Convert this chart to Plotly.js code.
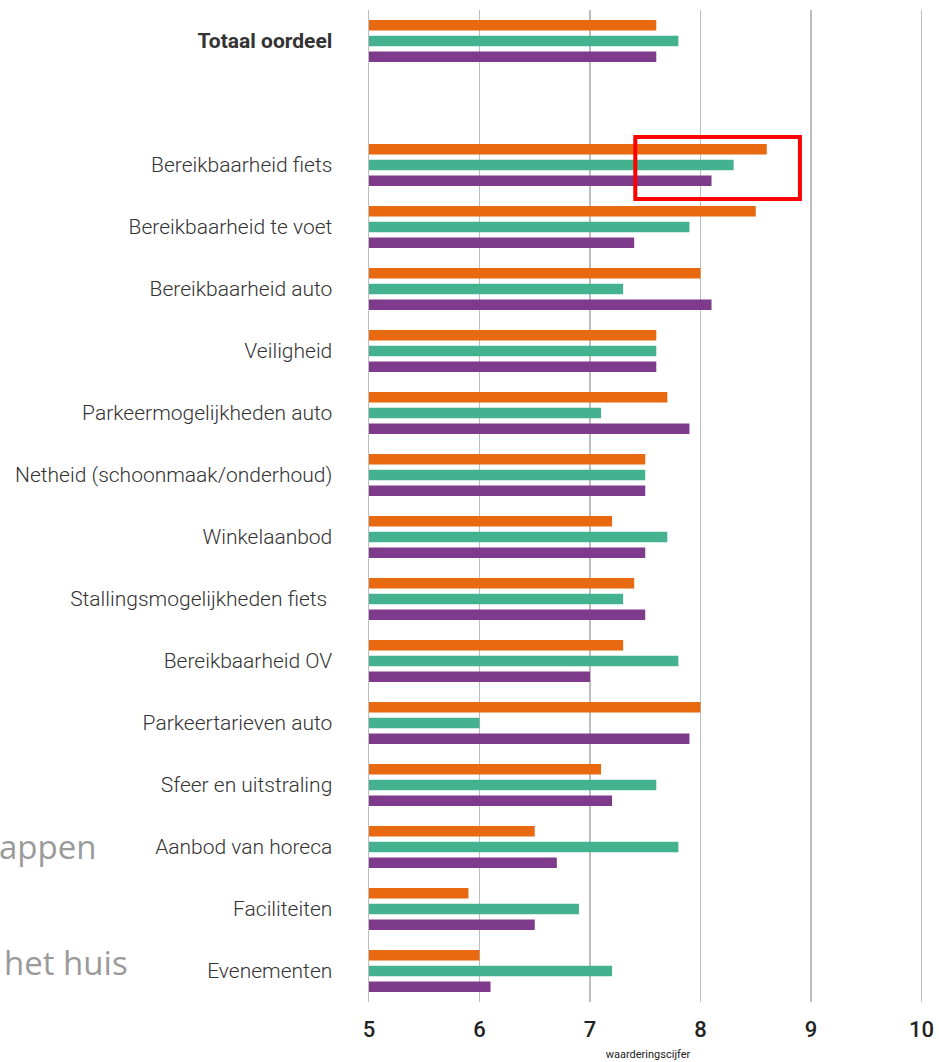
<!DOCTYPE html>
<html>
<head>
<meta charset="utf-8">
<script src="https://cdn.plot.ly/plotly-3.0.1.min.js"></script>
<style>html,body{margin:0;padding:0;background:#fff;}#chart{width:939px;height:1062px;}</style>
</head>
<body>
<div id="chart"></div>
<script>
const categories = ["Totaal oordeel", " ", "Bereikbaarheid fiets", "Bereikbaarheid te voet", "Bereikbaarheid auto", "Veiligheid", "Parkeermogelijkheden auto", "Netheid (schoonmaak/onderhoud)", "Winkelaanbod", "Stallingsmogelijkheden fiets ", "Bereikbaarheid OV", "Parkeertarieven auto", "Sfeer en uitstraling", "Aanbod van horeca", "Faciliteiten", "Evenementen"];
const tickLabels = ["<b>Totaal oordeel</b>", " ", "Bereikbaarheid fiets", "Bereikbaarheid te voet", "Bereikbaarheid auto", "Veiligheid", "Parkeermogelijkheden auto", "Netheid (schoonmaak/onderhoud)", "Winkelaanbod", "Stallingsmogelijkheden fiets ", "Bereikbaarheid OV", "Parkeertarieven auto", "Sfeer en uitstraling", "Aanbod van horeca", "Faciliteiten", "Evenementen"];
const orangeValues = [7.6, null, 8.6, 8.5, 8.0, 7.6, 7.7, 7.5, 7.2, 7.4, 7.3, 8.0, 7.1, 6.5, 5.9, 6.0];
const greenValues  = [7.8, null, 8.3, 7.9, 7.3, 7.6, 7.1, 7.5, 7.7, 7.3, 7.8, 6.0, 7.6, 7.8, 6.9, 7.2];
const purpleValues = [7.6, null, 8.1, 7.4, 8.1, 7.6, 7.9, 7.5, 7.5, 7.5, 7.0, 7.9, 7.2, 6.7, 6.5, 6.1];
const xTicks = [5, 6, 7, 8, 9, 10];

function bar(vals, color) {
  return {type: 'bar', orientation: 'h', y: categories, x: vals.map(v => v === null ? null : v - 5), base: 5,
          marker: {color: color, line: {width: 0}}, hoverinfo: 'skip', showlegend: false};
}
const data = [bar(orangeValues, '#E8690F'), bar(greenValues, '#45B28F'), bar(purpleValues, '#7E3A8B')];

const layout = {
  width: 939, height: 1062,
  margin: {l: 369, r: 12, t: 10, b: 60},
  paper_bgcolor: '#fff', plot_bgcolor: '#fff',
  barmode: 'group', bargap: 0.24, bargroupgap: 0.34,
  font: {family: 'Roboto, sans-serif', color: '#333'},
  xaxis: {range: [5, 10.05], tickvals: xTicks, ticktext: xTicks.map(String),
          showgrid: true, gridcolor: '#BDBDBD', gridwidth: 1.5, zeroline: false, showline: false,
          ticks: '', ticklabelstandoff: 12, tickfont: {size: 22, color: '#222', family: 'Roboto', weight: 500},
          title: {text: 'waarderingscijfer', font: {size: 11, color: '#222'}, standoff: 9},
          fixedrange: true},
  yaxis: {type: 'category', categoryorder: 'array', categoryarray: categories,
          tickvals: categories, ticktext: tickLabels, range: [15.5, -0.5],
          showgrid: false, zeroline: false, showline: true, linecolor: '#BDBDBD', linewidth: 1.5,
          ticks: '', ticklabelstandoff: 31,
          tickfont: {size: 21, color: '#333', family: 'Roboto', weight: 300}, fixedrange: true},
  shapes: [{type: 'rect', xref: 'x', yref: 'y', x0: 7.41, x1: 8.9, y0: 1.55, y1: 2.55,
            line: {color: '#FF0000', width: 4}, fillcolor: 'rgba(0,0,0,0)'}],
  annotations: [
    {text: 'appen', xref: 'paper', yref: 'paper', x: -0.484, y: 0.157, xanchor: 'right', yanchor: 'middle',
     showarrow: false, font: {family: 'Open Sans', size: 33, color: '#9A9A9A'}},
    {text: 'het huis', xref: 'paper', yref: 'paper', x: -0.428, y: 0.040, xanchor: 'right', yanchor: 'middle',
     showarrow: false, font: {family: 'Open Sans', size: 33, color: '#9A9A9A'}}
  ]
};
Plotly.newPlot('chart', data, layout, {staticPlot: true, displayModeBar: false});
</script>
</body>
</html>
